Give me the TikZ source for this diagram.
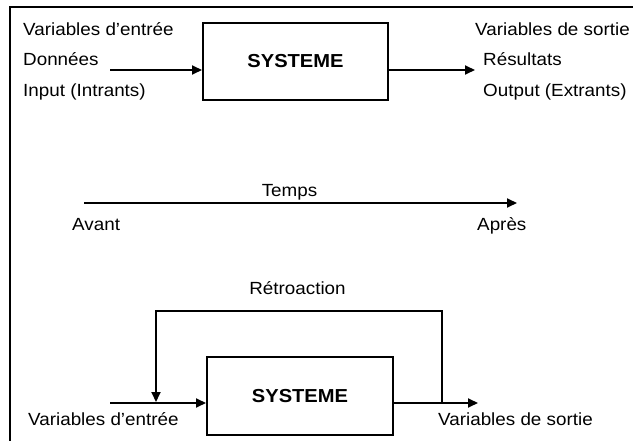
\documentclass[tikz,border=0pt]{standalone}
\usepackage{fontspec}
\setmainfont{Liberation Sans}[FakeStretch=1.07]
\usetikzlibrary{arrows.meta}
\tikzset{
  lbl/.style={anchor=base west, inner sep=0pt, font=\fontsize{17.6}{20}\selectfont},
  lblc/.style={anchor=base, inner sep=0pt, font=\fontsize{17.6}{20}\selectfont},
  sysbox/.style={draw, line width=2pt, inner sep=0pt, font=\fontsize{18.8}{20}\selectfont\bfseries},
  arr/.style={line width=2pt, -{Triangle[length=10pt,width=9pt]}},
  frame/.style={line width=1.2pt}
}
\begin{document}
\begin{tikzpicture}[x=1pt,y=-1pt]
\useasboundingbox (0,0) rectangle (633,441);
\fill[white] (0,0) rectangle (633,441);
% frame
\coordinate (fA) at (10,441);
\coordinate (fB) at (10,7);
\coordinate (fC) at (633,7);
\draw[frame] (fA) -- (fB) -- (fC);

% ---- top system ----
\node[sysbox, minimum width=185pt, minimum height=77pt] (sys1) at (295.5,61.5) {SYSTEME};
\node[lbl] (ve1) at (23,36) {Variables d’entrée};
\node[lbl] (don) at (23,66) {Données};
\node[lbl] (inp) at (23,97) {Input (Intrants)};
\node[lbl] (vs1) at (475,36) {Variables de sortie};
\node[lbl] (res) at (483,66) {Résultats};
\node[lbl] (outp) at (483,97) {Output (Extrants)};
\coordinate (in1) at (110,70);
\coordinate (out1) at (475,70);
\draw[arr] (in1) -- (in1 -| sys1.west);
\draw[arr] (sys1.east |- out1) -- (out1);

% ---- time ----
\coordinate (t0) at (84,203);
\coordinate (t1) at (517,203);
\draw[arr] (t0) -- (t1);
\node[lblc] (temps) at (289.5,197) {Temps};
\node[lbl] (avant) at (72,231) {Avant};
\node[lbl] (apres) at (477,231) {Après};

% ---- feedback system ----
\node[sysbox, minimum width=186pt, minimum height=78pt] (sys2) at (300,396) {SYSTEME};
\node[lblc] (retro) at (297.5,295) {Rétroaction};
\node[lbl] (ve2) at (28,425) {Variables d’entrée};
\node[lbl] (vs2) at (438,425) {Variables de sortie};
\coordinate (in2) at (110,403);
\coordinate (out2) at (478,403);
\coordinate (fb) at (442,403);
\coordinate (fbtr) at (442,311);
\coordinate (fbtl) at (156,311);
\coordinate (fbend) at (156,402);
\draw[arr] (in2) -- (in2 -| sys2.west);
\draw[arr] (sys2.east |- out2) -- (out2);
\draw[arr, line join=miter] (fb) -- (fbtr) -- (fbtl) -- (fbend);
\end{tikzpicture}
\end{document}
